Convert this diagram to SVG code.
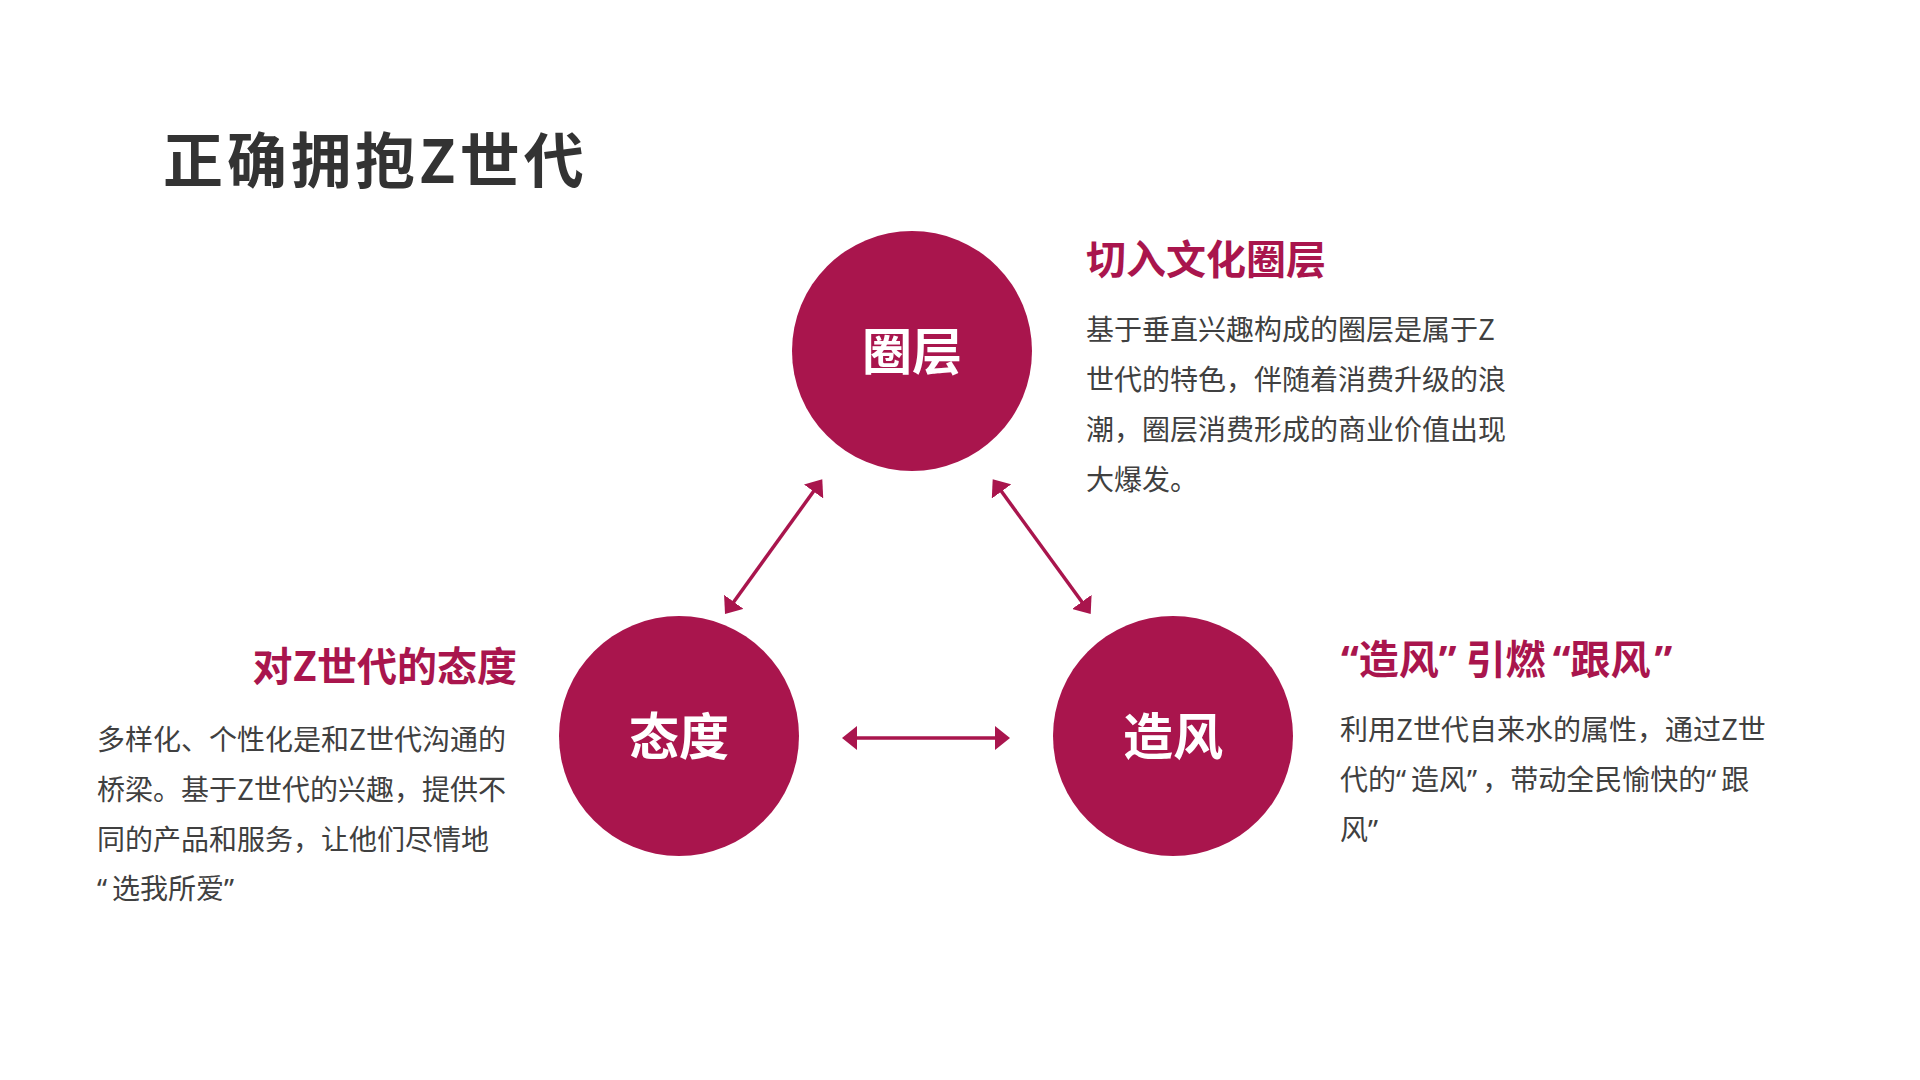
<svg xmlns="http://www.w3.org/2000/svg" width="1920" height="1080" viewBox="0 0 1920 1080">
  <style>
    text { font-family: "Noto Sans CJK SC", "Noto Sans", sans-serif; }
    .title { font-size: 60px; font-weight: 700; fill: #333333; letter-spacing: 4px; }
    .circle { fill: #A9154D; }
    .ctext { font-size: 50px; font-weight: 700; fill: #FFFFFF; text-anchor: middle; }
    .head { font-size: 40px; font-weight: 700; fill: #A9154D; }
    .body { font-size: 28px; fill: #404040; }
    .q { font-family: "Noto Sans", "DejaVu Sans", sans-serif; }
    .head .qc { letter-spacing: 9px; }
    .body .q { letter-spacing: 5px; }
    .conn { stroke: #A9154D; stroke-width: 3.5; fill: none; marker-start: url(#arrow); marker-end: url(#arrow); }
  </style>
  <defs>
    <marker id="arrow" viewBox="0 0 15 24" refX="7" refY="12" markerWidth="15" markerHeight="24" markerUnits="userSpaceOnUse" orient="auto-start-reverse">
      <path d="M0,0 L15,12 L0,24 z" fill="#A9154D"/>
    </marker>
  </defs>
  <rect width="1920" height="1080" fill="#FFFFFF"/>

  <text class="title" x="163" y="183">正确拥抱Z世代</text>

  <g id="node-quanceng">
    <circle class="circle" cx="912" cy="351" r="120"/>
    <text class="ctext" x="912" y="370">圈层</text>
  </g>
  <g id="node-taidu">
    <circle class="circle" cx="679" cy="736" r="120"/>
    <text class="ctext" x="679" y="755">态度</text>
  </g>
  <g id="node-zaofeng">
    <circle class="circle" cx="1173" cy="736" r="120"/>
    <text class="ctext" x="1173" y="755">造风</text>
  </g>

  <g id="connectors">
    <line class="conn" x1="729.7" y1="607.5" x2="817.6" y2="485.8"/>
    <line class="conn" x1="997.4" y1="485.8" x2="1086" y2="607.5"/>
    <line class="conn" x1="850" y1="738" x2="1002" y2="738"/>
  </g>

  <g id="text-top">
    <text class="head" x="1086" y="274">切入文化圈层</text>
    <text class="body" x="1086" y="340">基于垂直兴趣构成的圈层是属于Z</text>
    <text class="body" x="1086" y="390">世代的特色，伴随着消费升级的浪</text>
    <text class="body" x="1086" y="440">潮，圈层消费形成的商业价值出现</text>
    <text class="body" x="1086" y="490">大爆发。</text>
  </g>

  <g id="text-left">
    <text class="head" x="517" y="681" text-anchor="end">对Z世代的态度</text>
    <text class="body" x="97" y="750">多样化、个性化是和Z世代沟通的</text>
    <text class="body" x="97" y="800">桥梁。基于Z世代的兴趣，提供不</text>
    <text class="body" x="97" y="850">同的产品和服务，让他们尽情地</text>
    <text class="body" x="97" y="899"><tspan class="q">“</tspan>选我所爱<tspan class="q">”</tspan></text>
  </g>

  <g id="text-right">
    <text class="head" x="1341" y="674"><tspan class="q">“</tspan>造风<tspan class="q qc">”</tspan>引燃<tspan class="q" dx="7">“</tspan>跟风<tspan class="q qc" dx="4">”</tspan></text>
    <text class="body" x="1340" y="740">利用Z世代自来水的属性，通过Z世</text>
    <text class="body" x="1340" y="790">代的<tspan class="q">“</tspan>造风<tspan class="q">”</tspan>，带动全民愉快的<tspan class="q">“</tspan>跟</text>
    <text class="body" x="1340" y="840">风<tspan class="q">”</tspan></text>
  </g>
</svg>
